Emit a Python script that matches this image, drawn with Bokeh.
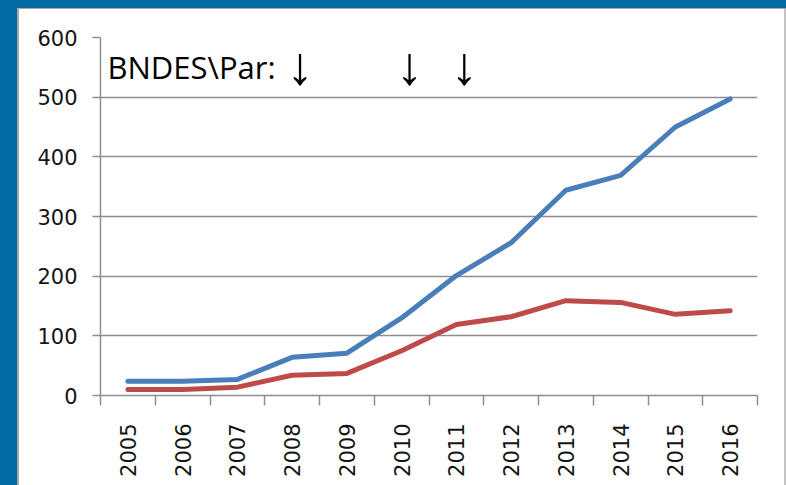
import math
from bokeh.plotting import figure
from bokeh.models import FixedTicker, Label, Range1d, Spacer
from bokeh.layouts import column, row
from bokeh.core.properties import value
from bokeh.embed import file_html
from bokeh.resources import INLINE

# ---- data ----
years = [2005, 2006, 2007, 2008, 2009, 2010, 2011, 2012, 2013, 2014, 2015, 2016]
blue_values = [24, 24, 27, 64, 71, 130, 201, 256, 344, 369, 450, 497]
red_values = [10, 10, 14, 34, 37, 75, 119, 132, 159, 156, 136, 142]
y_ticks = [0, 100, 200, 300, 400, 500, 600]
note_text = "BNDES\\Par:"
arrow_years = [2008, 2010, 2011]
arrow_text = ["\u2193", "\u2193", "\u2193"]

BG_BLUE = "#046ca5"
EDGE = "#a8a8a8"
GRID = "#8e8e8e"
LINE_BLUE = "#4a7ebb"
LINE_RED = "#be4b48"

p = figure(width=765, height=476,
           x_range=Range1d(years[0] - 0.5, years[-1] + 0.5),
           y_range=Range1d(y_ticks[0], y_ticks[-1]),
           output_backend="svg", toolbar_location=None,
           min_border_left=81, min_border_right=27,
           min_border_top=28, min_border_bottom=90)

p.border_fill_color = "white"
p.background_fill_color = "white"
p.outline_line_color = None

# grid
p.xgrid.grid_line_color = None
p.ygrid.grid_line_color = GRID
p.ygrid.grid_line_width = 1.5

# y axis
p.yaxis.ticker = FixedTicker(ticks=y_ticks)
p.yaxis.axis_line_color = GRID
p.yaxis.axis_line_width = 1.5
p.yaxis.major_tick_line_color = GRID
p.yaxis.major_tick_line_width = 1.5
p.yaxis.major_tick_out = 8
p.yaxis.major_tick_in = 0
p.yaxis.minor_tick_line_color = None
p.yaxis.major_label_standoff = 15
p.yaxis.major_label_text_font = "DejaVu Sans"
p.yaxis.major_label_text_font_size = "21px"
p.yaxis.major_label_text_color = "#141414"

# x axis
boundaries = [y - 0.5 for y in years] + [years[-1] + 0.5]
p.xaxis.ticker = FixedTicker(ticks=years, minor_ticks=boundaries)
p.xaxis.axis_line_color = GRID
p.xaxis.axis_line_width = 1.5
p.xaxis.major_tick_line_color = None
p.xaxis.major_tick_out = 0
p.xaxis.major_tick_in = 0
p.xaxis.minor_tick_line_color = GRID
p.xaxis.minor_tick_line_width = 1.5
p.xaxis.minor_tick_out = 10
p.xaxis.minor_tick_in = 0
p.xaxis.major_label_orientation = math.pi / 2
p.xaxis.major_label_standoff = 18
p.xaxis.major_label_text_font = "DejaVu Sans"
p.xaxis.major_label_text_font_size = "21px"
p.xaxis.major_label_text_color = "#141414"

# lines
p.line(years, blue_values, line_color=LINE_BLUE, line_width=5, line_join="round", line_cap="round")
p.line(years, red_values, line_color=LINE_RED, line_width=5, line_join="round", line_cap="round")

# annotation text
p.add_layout(Label(x=years[0] - 0.5, y=550, x_offset=7, text=note_text,
                   text_font="Open Sans", text_font_size="31px",
                   text_color="black", text_baseline="alphabetic"))
p.text(x=arrow_years, y=[554] * len(arrow_years), text=arrow_text,
       x_offset=8, text_align="center", text_baseline="alphabetic",
       text_font=value("Liberation Sans"), text_font_size="54px", text_color="black")

top_strip = Spacer(width=786, height=8, styles={"background-color": BG_BLUE})
top_edge = Spacer(width=769, height=1, styles={"background-color": EDGE})
left_strip = Spacer(width=17, height=477, styles={"background-color": BG_BLUE})
left_edge = Spacer(width=2, height=476, styles={"background-color": EDGE})
right_edge = Spacer(width=2, height=476, styles={"background-color": "#c4c4c4"})
layout = column(top_strip,
                row(left_strip, column(top_edge, row(left_edge, p, right_edge))))

open("out.html", "w").write(file_html(layout, INLINE))
